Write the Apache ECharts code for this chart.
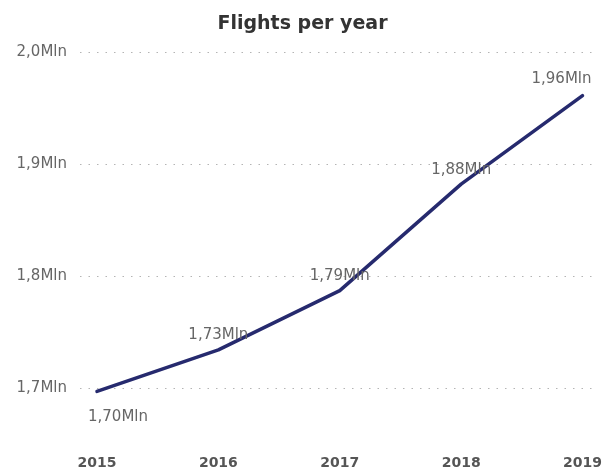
<!DOCTYPE html>
<html>
<head>
<meta charset="utf-8">
<script src="https://cdn.jsdelivr.net/npm/echarts@6/dist/echarts.min.js"></script>
<style>html,body{margin:0;padding:0;background:#fff}#c{width:605px;height:472px}</style>
</head>
<body>
<div id="c"></div>
<script>
var years = [2015, 2016, 2017, 2018, 2019];
var flights = [1.697, 1.734, 1.787, 1.882, 1.961];
var yTicks = [1.7, 1.8, 1.9, 2.0];

var fam = '"DejaVu Sans", sans-serif';
function fmtAxis(v){ return v.toFixed(1).replace('.', ',') + 'Mln'; }
function fmtLabel(v){ return v.toFixed(2).replace('.', ',') + 'Mln'; }

var data = years.map(function(y, i){
  var item = { value: [y, flights[i]] };
  if (i === 0) item.label = { position: 'bottom' };
  return item;
});

var chart = echarts.init(document.getElementById('c'));
chart.setOption({
  animation: false,
  title: {
    text: 'Flights per year', left: 'center', top: 10,
    textStyle: { fontFamily: fam, fontSize: 19, fontWeight: 'bold', color: '#333' }
  },
  grid: { left: 80, right: 12, top: 52, bottom: 84, containLabel: false },
  xAxis: {
    type: 'value', min: 2014.86, max: 2019.082,
    axisLine: { show: false }, axisTick: { show: false }, splitLine: { show: false },
    axisLabel: {
      customValues: years, margin: 68,
      formatter: function(v){ return String(Math.round(v)); },
      fontFamily: fam, fontSize: 14, fontWeight: 'bold', color: '#555'
    }
  },
  yAxis: {
    type: 'value', min: 1.7, max: 2.0, interval: 0.1,
    axisLine: { show: false }, axisTick: { show: false },
    axisLabel: { formatter: fmtAxis, margin: 13, fontFamily: fam, fontSize: 15, color: '#666' },
    splitLine: { lineStyle: { type: [1.5, 7], color: '#b4b4b4', width: 1 } }
  },
  series: [{
    type: 'line', data: data, clip: false,
    symbol: 'circle', symbolSize: 2, showSymbol: true,
    itemStyle: { color: 'rgba(38,42,110,0)', borderWidth: 0 },
    lineStyle: { color: '#262a6e', width: 3.5, join: 'round', cap: 'round' },
    labelLayout: function(p){
      if (p.dataIndex === 0) return { dx: 21, dy: 11, hideOverlap: false };
      if (p.dataIndex === years.length - 1) return { dx: -21, dy: -2, hideOverlap: false };
      return { hideOverlap: false };
    },
    label: {
      show: true, position: 'top', distance: 6,
      formatter: function(p){ return fmtLabel(p.value[1]); },
      fontFamily: fam, fontSize: 15, color: '#666'
    }
  }]
});
</script>
</body>
</html>
